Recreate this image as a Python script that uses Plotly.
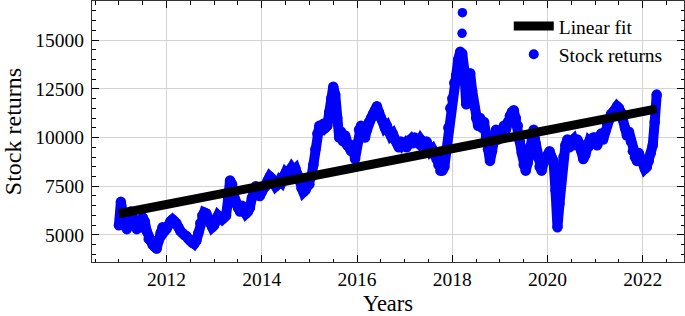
import numpy as np
import plotly.graph_objects as go

# ---------------- data ----------------
years = list(range(2011, 2023))
steps_per_year = 24  # semi-monthly observations

v2011 = [5500, 6700, 6100, 5600, 5300, 5800, 6200, 5900, 5500, 5300, 5600, 5400,
         5900, 5700, 5200, 4800, 4700, 4500, 4400, 4300, 4700, 5100, 5400, 5200]
v2012 = [5300, 5500, 5700, 5800, 5700, 5600, 5400, 5200, 5100, 5000, 4950, 4800,
         4700, 4600, 4550, 4700, 5100, 5600, 6000, 6150, 6100, 5900, 5600, 5400]
v2013 = [5500, 5800, 6000, 5900, 5800, 5900, 6000, 6800, 7800, 7600, 7000, 6600,
         6400, 6200, 6500, 6300, 6100, 6200, 6400, 6900, 7300, 7500, 7200, 7000]
v2014 = [7200, 7400, 7500, 7800, 8000, 7900, 7700, 7500, 7600, 7800, 7700, 8000,
         8200, 8100, 8300, 8450, 8300, 8400, 8100, 7800, 7400, 7200, 7300, 7500]
v2015 = [7600, 8000, 8600, 9400, 10200, 10600, 10500, 10700, 10500, 10600, 11300, 12000,
         12600, 12200, 11000, 10000, 10300, 9800, 10100, 9600, 9500, 9300, 9600, 8900]
v2016 = [9700, 10400, 10600, 10300, 10000, 10400, 10800, 11000, 11200, 11400, 11600, 11300,
         11000, 10800, 10500, 10600, 10300, 10100, 10200, 9900, 9700, 9500, 9800, 9600]
v2017 = [9700, 9500, 9800, 9900, 9700, 10000, 9800, 9700, 9900, 9800, 9600, 9800,
         9500, 9300, 9400, 9100, 8900, 8600, 8300, 8300, 8500, 9300, 10500, 11500]
v2018 = [12000, 12800, 13200, 14000, 14400, 14300, 13500, 11700, 12600, 13300, 12400, 11600,
         11000, 10600, 11000, 10500, 10800, 10000, 9400, 8800, 9300, 10000, 10400, 9900]
v2019 = [10000, 10300, 10600, 10400, 10800, 11100, 11300, 11400, 11000, 10600, 9800, 9200,
         8600, 8300, 8700, 9500, 10000, 10400, 9700, 9000, 8500, 8300, 8700, 9000]
v2020 = [9100, 9300, 9000, 8800, 7300, 5400, 6600, 8200, 9000, 9600, 9900, 9500,
         9800, 9900, 9600, 9900, 9700, 9300, 8900, 9100, 9500, 9800, 9700, 10000]
v2021 = [10000, 9600, 9900, 10200, 9900, 10300, 10700, 10900, 11200, 11300, 11400, 11600,
         11500, 11300, 10900, 10500, 10100, 10300, 9800, 9300, 9000, 8800, 9200, 8900]
v2022 = [8700, 8400, 8500, 8800, 9200, 9600, 10800, 12200]

# two isolated record days in early 2018
peak_dates = [2018.205, 2018.212]
peak_values = [15340, 16400]

x_tick_vals = [2012, 2014, 2016, 2018, 2020, 2022]
x_tick_text = ["2012", "2014", "2016", "2018", "2020", "2022"]
y_tick_vals = [5000, 7500, 10000, 12500, 15000]
y_tick_text = ["5000", "7500", "10000", "12500", "15000"]

# ---------------- build series ----------------
values_by_year = [v2011, v2012, v2013, v2014, v2015, v2016,
                  v2017, v2018, v2019, v2020, v2021, v2022]
dates, values = [], []
for yr, vals in zip(years, values_by_year):
    for i, v in enumerate(vals):
        dates.append(yr + i / steps_per_year)
        values.append(v)

all_x = np.array(dates + peak_dates, dtype=float)
all_y = np.array(values + peak_values, dtype=float)
coef = np.polyfit(all_x, all_y, 1)
fit_x = np.array([all_x.min(), all_x.max()])
fit_y = np.polyval(coef, fit_x)

BLUE = "#0000ff"
fig = go.Figure()
fig.add_trace(go.Scatter(x=dates, y=values, mode="lines+markers",
                         line=dict(color=BLUE, width=10),
                         marker=dict(color=BLUE, size=10.5),
                         showlegend=False, hoverinfo="skip"))
fig.add_trace(go.Scatter(x=peak_dates, y=peak_values, mode="markers",
                         marker=dict(color=BLUE, size=9.5),
                         showlegend=False, hoverinfo="skip"))
fig.add_trace(go.Scatter(x=fit_x, y=fit_y, mode="lines",
                         line=dict(color="black", width=9),
                         name="Linear fit", legendgroup="a", legendrank=1))
fig.add_trace(go.Scatter(x=[None], y=[None], mode="markers",
                         marker=dict(color=BLUE, size=10),
                         name="Stock returns", legendgroup="b", legendrank=2))

FONT = "Liberation Serif"
fig.update_layout(
    width=685, height=316,
    margin=dict(l=92, r=1, t=1, b=54),
    paper_bgcolor="white", plot_bgcolor="white",
    font=dict(family=FONT, size=19.5, color="black"),
    legend=dict(x=0.704, y=0.978, xanchor="left", yanchor="top",
                bgcolor="rgba(0,0,0,0)", font=dict(family=FONT, size=19.5),
                traceorder="grouped", tracegroupgap=0, itemwidth=40),
)
axis_common = dict(
    ticks="inside", ticklen=7, tickwidth=1, tickcolor="black",
    showgrid=True, gridcolor="#d4d4d4", gridwidth=1.2,
    showline=True, linecolor="#333333", linewidth=1, mirror="ticks",
    zeroline=False, automargin=False,
    tickfont=dict(family=FONT, size=19.5),
)
fig.update_xaxes(range=[2010.435, 2022.865], tickmode="array",
                 tickvals=x_tick_vals, ticktext=x_tick_text,
                 minor=dict(tick0=2012, dtick=0.5, ticks="inside", ticklen=3.5,
                            tickcolor="black", showgrid=False),
                 title=dict(text="Years", font=dict(family=FONT, size=22.5), standoff=9),
                 ticklabelstandoff=0,
                 **axis_common)
fig.update_yaxes(range=[3615, 17000], tickmode="array",
                 tickvals=y_tick_vals, ticktext=y_tick_text,
                 minor=dict(tick0=5000, dtick=500, ticks="inside", ticklen=3.5,
                            tickcolor="black", showgrid=False),
                 title=dict(text="Stock returns", font=dict(family=FONT, size=24), standoff=11),
                 ticklabelstandoff=3,
                 **axis_common)

fig.write_html("out.html", config={"displayModeBar": False},
               post_script="document.body.style.margin='0';document.body.style.padding='0';")
